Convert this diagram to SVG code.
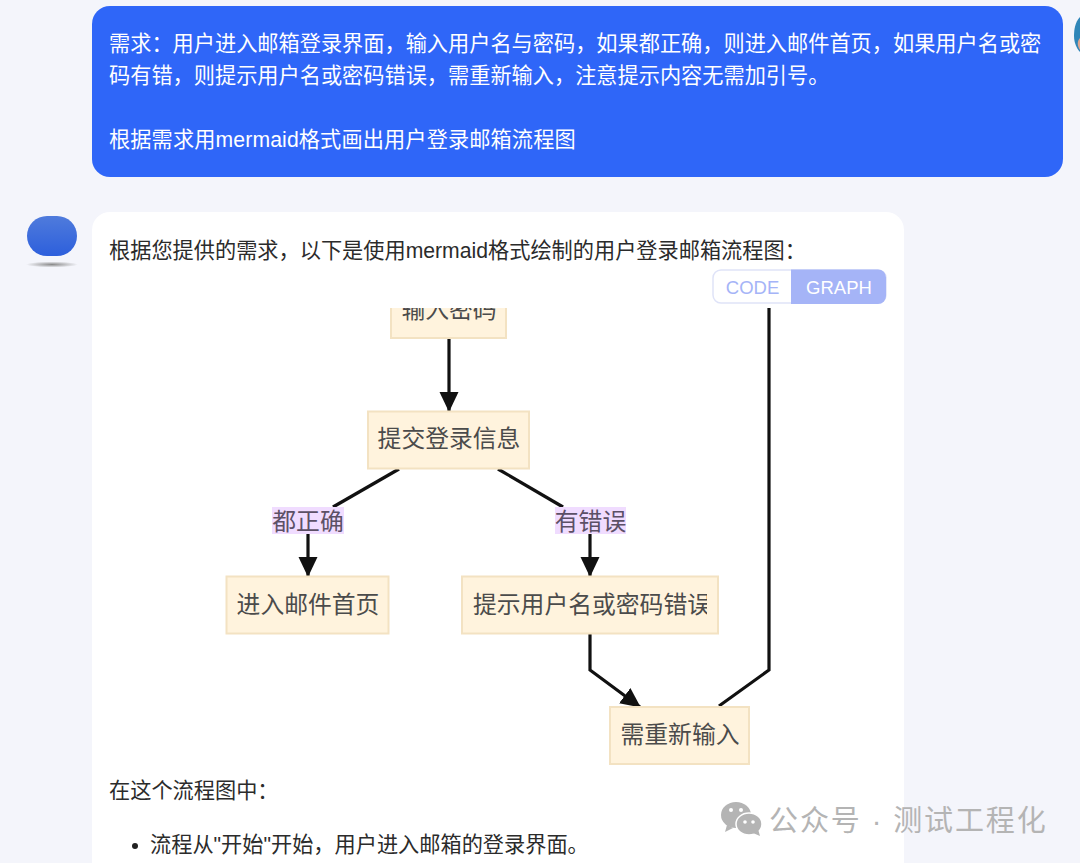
<svg xmlns="http://www.w3.org/2000/svg" width="1080" height="863" viewBox="0 0 1080 863">
<style>
text{font-family:"Liberation Sans","Noto Sans CJK SC",sans-serif}
.u{font-size:21.2px;fill:#fff}
.b{font-size:21.2px;fill:#2b2b2b}
.n{fill:#fff3dd;stroke:#f3e2c2;stroke-width:2}
.t{font-size:23.8px;fill:#4b4b4b;text-anchor:middle}
.l{font-size:23.8px;fill:#5c5066;text-anchor:middle}
.e{fill:none;stroke:#111;stroke-width:3.200}
.w{font-size:29px;fill:#b4b4b4;letter-spacing:1.900px}
</style>
<defs>
<marker id="a" markerUnits="userSpaceOnUse" markerWidth="20" markerHeight="20" refX="19" refY="10" orient="auto"><path d="M0 0.500L20 10L0 19.500Z" fill="#111"/></marker>
<linearGradient id="g" x1="0" y1="0" x2="0" y2="1"><stop offset="0" stop-color="#4f7bdc"/><stop offset="1" stop-color="#2d5fdc"/></linearGradient>
<radialGradient id="s"><stop offset="0" stop-color="#8a8a8a"/><stop offset="1" stop-color="#f4f5fb"/></radialGradient>
<clipPath id="top"><rect x="300" y="308" width="300" height="40"/></clipPath>
<clipPath id="err"><rect x="462" y="577" width="245" height="56"/></clipPath>
</defs>
<rect width="1080" height="863" fill="#f4f5fb"/>
<g id="user-bubble">
<rect x="92" y="6" width="971" height="171" rx="18" fill="#2f66f8"/>
<text class="u" x="109" y="51">需求：用户进入邮箱登录界面，输入用户名与密码，如果都正确，则进入邮件首页，如果用户名或密</text>
<text class="u" x="109" y="83">码有错，则提示用户名或密码错误，需重新输入，注意提示内容无需加引号。</text>
<text class="u" x="109" y="147" letter-spacing="0.120">根据需求用mermaid格式画出用户登录邮箱流程图</text>
</g>
<g id="user-avatar">
<path d="M1080 17C1075 22 1074 30 1074 36C1074 43 1077 49 1080 52Z" fill="#2f86b8"/>
<path d="M1080 38C1077 41 1077 46 1080 50Z" fill="#e0a58e"/>
</g>
<g id="bot-avatar">
<rect x="27" y="216" width="50" height="40" rx="20" fill="url(#g)"/>
<ellipse cx="52" cy="264.500" rx="26" ry="3" fill="url(#s)"/>
</g>
<g id="bot-bubble">
<rect x="92" y="212" width="812" height="680" rx="18" fill="#fff"/>
<text class="b" x="109" y="258">根据您提供的需求，以下是使用mermaid格式绘制的用户登录邮箱流程图：</text>
<text class="b" x="109" y="798">在这个流程图中：</text>
<circle cx="135" cy="846" r="3" fill="#222"/>
<text class="b" x="150" y="852">流程从"开始"开始，用户进入邮箱的登录界面。</text>
</g>
<g id="toggle">
<rect x="713" y="270" width="173" height="33" rx="8" fill="#fff" stroke="#dfe3f8" stroke-width="1.500"/>
<path d="M791 269.500H878a8 8 0 0 1 8 8V296a8 8 0 0 1-8 8H791Z" fill="#a5b4f7"/>
<text x="752.500" y="293.500" font-size="18.500" fill="#a5b4f7" text-anchor="middle">CODE</text>
<text x="839" y="293.500" font-size="18.500" fill="#fff" text-anchor="middle">GRAPH</text>
</g>
<g id="connectors">
<path class="e" d="M449 339V411" marker-end="url(#a)"/>
<path class="e" d="M399 469L333 507"/>
<path class="e" d="M498 469L563 507"/>
<path class="e" d="M308 534V576" marker-end="url(#a)"/>
<path class="e" d="M590 534V576" marker-end="url(#a)"/>
<path class="e" d="M590 634V670L640 707" marker-end="url(#a)"/>
<path class="e" d="M719 706L769 670V308"/>
</g>
<g id="n-password">
<g clip-path="url(#top)"><rect class="n" x="391" y="290" width="115" height="48"/>
<text class="t" x="449" y="318">输入密码</text></g>
</g>
<g id="n-submit">
<rect class="n" x="368" y="411.500" width="161" height="57"/>
<text class="t" x="449" y="447">提交登录信息</text>
</g>
<g id="l-ok">
<rect x="272" y="507" width="72" height="27" fill="#f0dcff"/>
<text class="l" x="308" y="530">都正确</text>
</g>
<g id="l-bad">
<rect x="555" y="507" width="71" height="27" fill="#f0dcff"/>
<text class="l" x="590.500" y="530">有错误</text>
</g>
<g id="n-home">
<rect class="n" x="226.500" y="576.500" width="162" height="57"/>
<text class="t" x="308" y="613">进入邮件首页</text>
</g>
<g id="n-error">
<rect class="n" x="462" y="576.500" width="256" height="57"/>
<g clip-path="url(#err)"><text class="t" x="592" y="613">提示用户名或密码错误</text></g>
</g>
<g id="n-retry">
<rect class="n" x="610" y="707" width="139" height="57"/>
<text class="t" x="680" y="743">需重新输入</text>
</g>
<g id="watermark">
<ellipse cx="736" cy="815" rx="15" ry="13" fill="#b4b4b4"/>
<path d="M727 825L725 832L733 828Z" fill="#b4b4b4"/>
<ellipse cx="749" cy="824" rx="13" ry="11" fill="#b4b4b4" stroke="#fff" stroke-width="1.500"/>
<path d="M753 833L760 836L758 829Z" fill="#b4b4b4"/>
<circle cx="731" cy="810" r="2" fill="#fff"/><circle cx="741" cy="810" r="2" fill="#fff"/>
<circle cx="745" cy="822" r="1.800" fill="#fff"/><circle cx="753" cy="822" r="1.800" fill="#fff"/>
<text class="w" x="769" y="831">公众号 · 测试工程化</text>
</g>
</svg>
